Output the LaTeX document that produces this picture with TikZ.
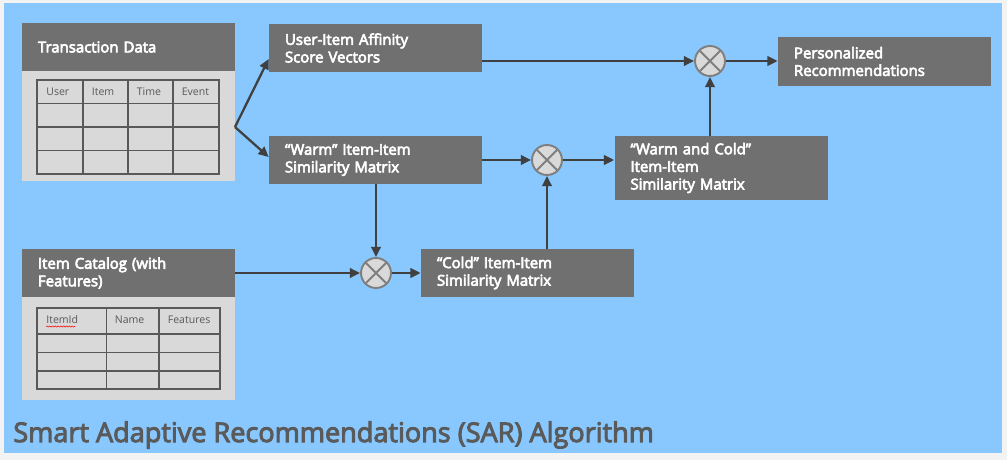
\documentclass[tikz,border=0pt]{standalone}
\usepackage{fontspec}
\setmainfont{Open Sans}
\newcommand\semistroke[1]{\special{pdf:literal direct 2 Tr #1 w}}
\newcommand\plainstroke{\special{pdf:literal direct 0 Tr}}
\usetikzlibrary{arrows.meta,decorations.pathmorphing}

\definecolor{pagegrey}{RGB}{243,243,243}
\definecolor{skyblue}{RGB}{136,200,254}
\definecolor{boxgrey}{RGB}{112,112,112}
\definecolor{sheetgrey}{RGB}{217,217,217}
\definecolor{rulegrey}{RGB}{89,89,89}
\definecolor{flowgrey}{RGB}{64,64,64}
\definecolor{ringgrey}{RGB}{127,127,127}
\definecolor{titlegrey}{RGB}{90,90,90}

\tikzset{
  stage/.style={fill=boxgrey, text=white, font=\fontsize{8.5pt}{10pt}\selectfont,
    minimum width=4.26cm, minimum height=0.96cm, text width=3.62cm,
    inner xsep=0.32cm, inner ysep=0pt, align=left,
    execute at begin node={\semistroke{0.35}}, execute at end node={\plainstroke}},
  cell/.style={anchor=west, text=rulegrey, inner sep=0pt, font=\fontsize{6pt}{7pt}\selectfont},
  tablerule/.style={draw=rulegrey, line width=0.6pt},
  flow/.style={draw=flowgrey, line width=1.3pt, -{Triangle[length=5.8pt,width=5.4pt]}},
  mult/.style={circle, minimum size=0.6cm, inner sep=0pt, fill=sheetgrey,
    draw=ringgrey, line width=1.1pt,
    path picture={\draw[ringgrey, line width=1.1pt]
      (path picture bounding box.north west) -- (path picture bounding box.south east)
      (path picture bounding box.north east) -- (path picture bounding box.south west);}},
}

\begin{document}
\begin{tikzpicture}
\useasboundingbox (0, 0) rectangle (20.14, 9.2);
\fill [pagegrey] (0, 0) rectangle (20.14, 9.2);
\fill [skyblue] (.08, .14) rectangle (20.04, 9.13);

% input tables
\fill [sheetgrey] (.44, 5.58) rectangle (4.7, 7.78);
\fill [sheetgrey] (.44, 1.2) rectangle (4.7, 3.26);
\node (trans) at (2.57, 8.26) [stage] {Transaction Data};
\node (catalog) at (2.57, 3.74) [stage] {Item Catalog (with\\Features)};

\draw [tablerule] (.74, 5.72) rectangle (4.38, 7.6);
\draw [tablerule] (.74, 7.13) -- (4.38, 7.13);
\draw [tablerule] (.74, 6.66) -- (4.38, 6.66);
\draw [tablerule] (.74, 6.19) -- (4.38, 6.19);
\draw [tablerule] (1.66, 5.72) -- (1.66, 7.6);
\draw [tablerule] (2.56, 5.72) -- (2.56, 7.6);
\draw [tablerule] (3.46, 5.72) -- (3.46, 7.6);
\node (tuser) at (.92, 7.37) [cell] {User};
\node (titem) at (1.83, 7.37) [cell] {Item};
\node (ttime) at (2.73, 7.37) [cell] {Time};
\node (tevent) at (3.63, 7.37) [cell] {Event};

\draw [tablerule] (.74, 1.42) rectangle (4.4, 3.04);
\draw [tablerule] (.74, 2.52) -- (4.4, 2.52);
\draw [tablerule] (.74, 2.15) -- (4.4, 2.15);
\draw [tablerule] (.74, 1.78) -- (4.4, 1.78);
\draw [tablerule] (2.13, 1.42) -- (2.13, 3.04);
\draw [tablerule] (3.18, 1.42) -- (3.18, 3.04);
\node (cid) at (.92, 2.8) [cell] {ItemId};
\node (cname) at (2.29, 2.8) [cell] {Name};
\node (cfeat) at (3.35, 2.8) [cell] {Features};
\draw [red, line width=.3pt, decorate, decoration={snake, amplitude=.35pt, segment length=1.6pt}] (.92, 2.67) -- (1.5, 2.67);

% stages
\node (affinity) at (7.51, 8.24) [stage] {User-Item Affinity\\Score Vectors};
\node (warm) at (7.51, 6) [stage] {“Warm” Item-Item\\Similarity Matrix};
\node (cold) at (10.55, 3.74) [stage] {“Cold” Item-Item\\Similarity Matrix};
\node (warmcold) at (14.42, 5.84) [stage, minimum height=1.28cm] {“Warm and Cold”\\Item-Item\\Similarity Matrix};
\node (personal) at (17.69, 7.97) [stage, minimum height=.98cm] {Personalized\\Recommendations};

\node (xlow) at (7.52, 3.74) [mult] {};
\node (xmid) at (10.94, 6) [mult] {};
\node (xtop) at (14.2, 7.98) [mult] {};

\coordinate (split) at (4.7, 6.66);

% connectors
\draw [flow] (split) -- ([yshift=-2.2mm]affinity.west);
\draw [flow] (split) -- ([yshift=.6mm]warm.west);
\draw [flow] (affinity.east |- xtop) -- (xtop);
\draw [flow] (xtop) -- (xtop -| personal.west);
\draw [flow] (warm) -- (xmid);
\draw [flow] (xmid) -- (xmid -| warmcold.west);
\draw [flow] (warmcold.north -| xtop) -- (xtop);
\draw [flow] (warm.south -| xlow) -- (xlow);
\draw [flow] (catalog.east) -- (xlow);
\draw [flow] (xlow) -- (cold);
\draw [flow] (cold.north -| xmid) -- (xmid);

\node (title) at (.26, .5) [anchor=west, inner sep=0pt, text=titlegrey, font=\fontsize{15.4pt}{17pt}\selectfont,
  execute at begin node={\semistroke{0.55}}, execute at end node={\plainstroke}] {Smart Adaptive Recommendations (SAR) Algorithm};
\end{tikzpicture}
\end{document}
